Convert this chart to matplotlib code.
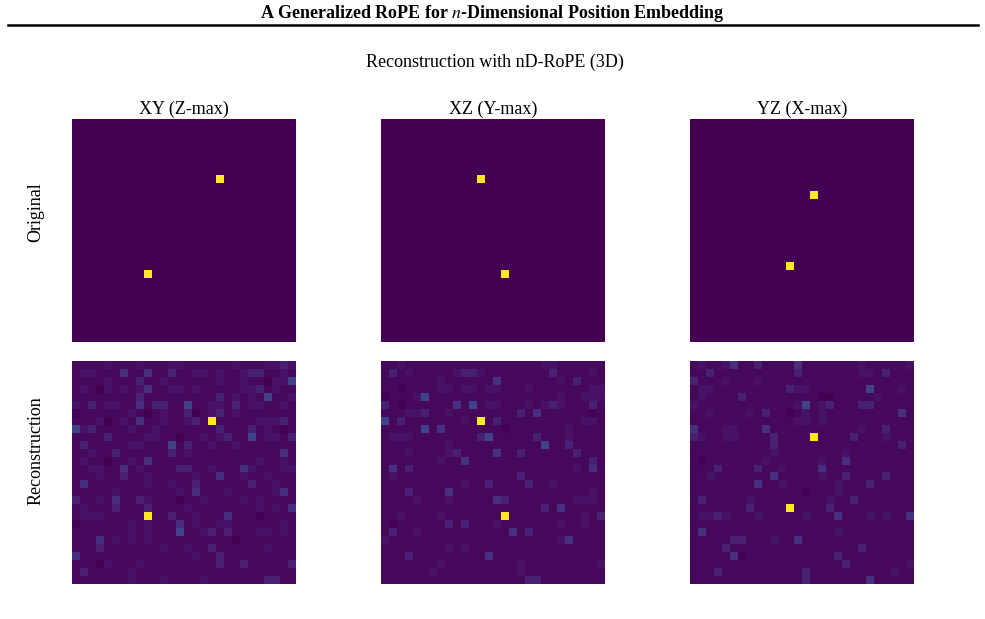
import numpy as np
import matplotlib
matplotlib.use("Agg")
import matplotlib.pyplot as plt
from matplotlib.lines import Line2D

plt.rcParams['font.family'] = ['Liberation Serif', 'DejaVu Serif']
plt.rcParams['mathtext.fontset'] = 'stix'

page_title = r"A Generalized RoPE for $n$-Dimensional Position Embedding"
fig_title = "Reconstruction with nD-RoPE (3D)"
col_titles = ["XY (Z-max)", "XZ (Y-max)", "YZ (X-max)"]
row_titles = ["Original", "Reconstruction"]
grid_n = 28

# 3D points (index a, b, c) -> projections
points = [(7, 18, 12), (19, 9, 15)]

# reconstruction noise levels (Y = peak)
level_values = {"0": 0.0, "1": 0.02, "2": 0.05, "3": 0.09, "4": 0.14, "5": 0.20, "Y": 1.0}

recon_xy = [
    "1111211121112211111121112232",
    "1221114114113112212112331121",
    "1111211131121111112112110225",
    "1210212124112212111112231211",
    "1111111131111111113121215112",
    "2131221141331151122131221121",
    "0111111210121130123121111111",
    "11120121411211231Y1111122231",
    "5231111211211111113111312101",
    "1111311112211011212311512213",
    "1311111221115131121121111111",
    "1121131111113121111111111141",
    "1211011214111111111111121121",
    "1122114121111331121114211122",
    "1112113112111112114112112111",
    "1411111112112113111111311211",
    "1111121111111214111211111241",
    "3112141132111011211112121111",
    "1211131113111121111111121214",
    "122211111Y113112111411101111",
    "0111111212111412112211111121",
    "1111111212111511231311122121",
    "1114121212111111111101111111",
    "1113111111121121131111112111",
    "4111111111111112113111111111",
    "1110211121111111113113111113",
    "1311111211111111111111111111",
    "1111111211121111211111113311",
]

recon_xz = [
    "1121111111111111111122111111",
    "1312111112332111111113111121",
    "1111111211111141111111213111",
    "1101111221221221112111111122",
    "0111251111111111111111211222",
    "3101111114151221112123211131",
    "1112231121111111131411111101",
    "513111111121Y131111111111221",
    "1111151411111110111111121111",
    "1222111111113511111311121111",
    "1111111121111111111151131111",
    "1112111123111141131111113111",
    "1111111211411111111111111131",
    "1413111111111111111111112141",
    "1211111111111111131111111111",
    "1111111111211311113112111111",
    "1113111141111111111111111121",
    "1111211121111143111111112221",
    "1111111111111111111131411111",
    "112111121111111Y111111111213",
    "1011111131311121111111211211",
    "1311211111111111413111111111",
    "2111111111111111111111241111",
    "1111111121211111111111111111",
    "1113111111111411111111111111",
    "1111111211111111121111111112",
    "1111112111111111121111111111",
    "1111111111111111113311111111",
]

recon_yz = [
    "1211241131111411111112111112",
    "1131111111111311111112213111",
    "3111211121111111111111111111",
    "1221111111113221111111511121",
    "1211113111111111001111121111",
    "2111111111111251231113311111",
    "1121111213110121211111111141",
    "1111111111111221211111111111",
    "4111221114111111111112113111",
    "321122111131111Y111131112111",
    "1111111111311111111111111131",
    "1111111111211111111211111111",
    "1011111112111111211411111111",
    "1113111131121111411111111111",
    "1121111111411111211311113111",
    "1111111141121111112111311111",
    "1111111111111101112111111111",
    "1311111211111111121131111111",
    "111111131111Y111131111111111",
    "1223211121111121114111212114",
    "1111111111111111111111111111",
    "1411111111111111112111111111",
    "1111133111211411111111111111",
    "1111311111111111111113111111",
    "1111140111111111113111111111",
    "1111111111111111111311111112",
    "1113111111111131111111111211",
    "1111111111111131111111411111",
]


def originals():
    imgs = [np.zeros((grid_n, grid_n)) for _ in range(3)]
    for a, b, c in points:
        imgs[0][a, b] = 1.0
        imgs[1][a, c] = 1.0
        imgs[2][b, c] = 1.0
    return imgs


def decode(rows):
    return np.array([[level_values[ch] for ch in r] for r in rows])


orig_imgs = originals()
rec_imgs = [decode(recon_xy), decode(recon_xz), decode(recon_yz)]

W, H = 985, 619
fig = plt.figure(figsize=(W / 100, H / 100), dpi=100)

fig.text(492 / W, 1 - 14 / H, page_title, ha='center', va='center',
         fontsize=13, fontweight='bold')
fig.add_artist(Line2D([8 / W, 978 / W], [1 - 25 / H, 1 - 25 / H],
                      color='black', lw=1.8, transform=fig.transFigure))
fig.text(495 / W, 1 - 62 / H, fig_title, ha='center', va='center', fontsize=13)

lefts = [72, 381, 690]
tops = [119, 361]
aw, ah = 224, 223
for r in range(2):
    for c in range(3):
        ax = fig.add_axes([lefts[c] / W, 1 - (tops[r] + ah) / H, aw / W, ah / H])
        img = orig_imgs[c] if r == 0 else rec_imgs[c]
        ax.imshow(img, cmap='viridis', vmin=0, vmax=1, aspect='auto',
                  interpolation='nearest')
        ax.axis('off')
        if r == 0:
            ax.set_title(col_titles[c], fontsize=13, pad=4)

fig.text(36 / W, 1 - 212 / H, row_titles[0], rotation=90, ha='center',
         va='center', fontsize=13)
fig.text(36 / W, 1 - 451 / H, row_titles[1], rotation=90, ha='center',
         va='center', fontsize=13)

fig.savefig("out.png", dpi=100)
